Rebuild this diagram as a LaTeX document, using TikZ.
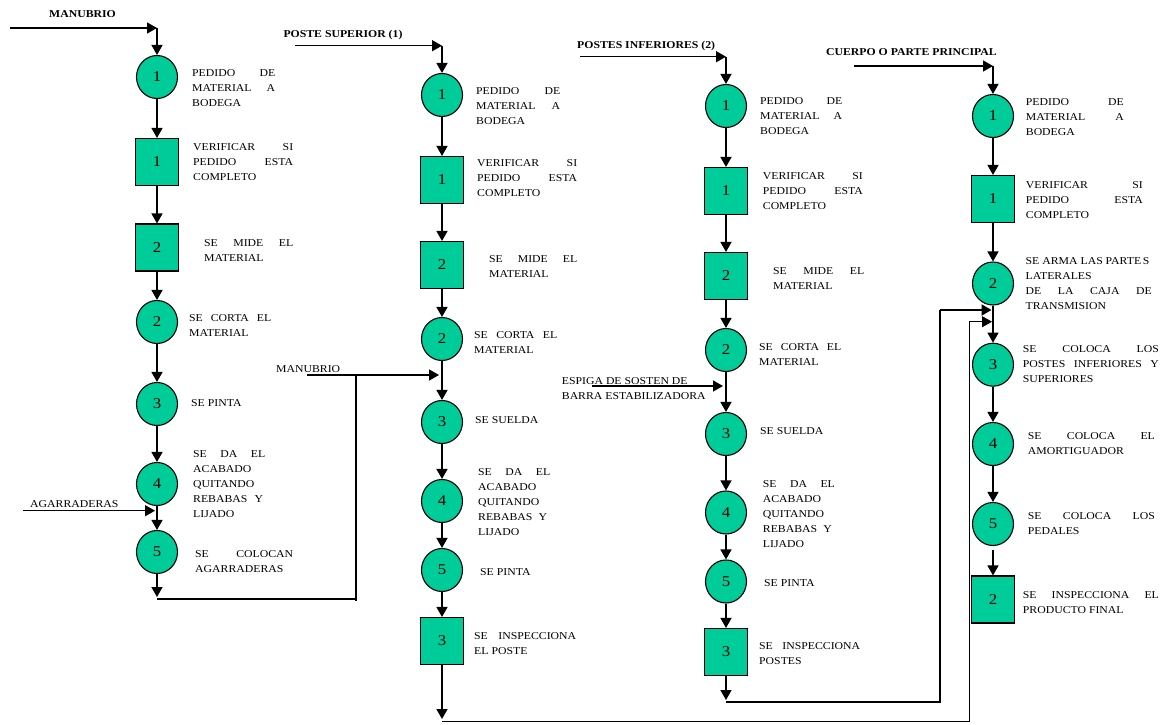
\documentclass[tikz,border=0pt]{standalone}
\usepackage{fontspec}
\setmainfont{Liberation Serif}[FakeStretch=1.12]
\usetikzlibrary{shapes.geometric,arrows.meta}
\hbadness=10000 \hfuzz=60pt
\definecolor{gfill}{RGB}{0,204,153}
\newcommand\jl[2]{\hbox to #1pt{#2}}
\newcommand\fl[1]{\hbox{#1}}
\begin{document}
\begin{tikzpicture}[x=1pt,y=-1pt,
  circ/.style={ellipse,draw=black,line width=1.1pt,fill=gfill,minimum width=41pt,minimum height=43pt,inner sep=0pt,font=\fontsize{15}{15}\selectfont},
  sq/.style={rectangle,draw=black,line width=1.1pt,fill=gfill,minimum width=43pt,minimum height=47pt,inner sep=0pt,font=\fontsize{15}{15}\selectfont},
  txt/.style={anchor=base west,inner sep=0pt,font=\fontsize{10.5}{15}\selectfont},
  ttl/.style={anchor=base west,inner sep=0pt,font=\fontsize{10.5}{15}\selectfont\bfseries},
  con/.style={line width=1.4pt,-{Triangle[length=10pt,width=11pt]}},
  thk/.style={line width=2pt},
  thn/.style={line width=0.9pt},
  conthn/.style={line width=0.9pt,-{Triangle[length=10pt,width=11pt]}}]
\fill[white] (0,0) rectangle (1173,724);
\useasboundingbox (0,0) rectangle (1173,724);

% ---------------- Column 1: MANUBRIO
\node[circ] (c11) at (157,77) {1};
\node[sq]   (c12) at (157,162) {1};
\node[sq]   (c13) at (157,247.5) {2};
\node[circ] (c14) at (157,322) {2};
\node[circ] (c15) at (157,404) {3};
\node[circ] (c16) at (157,484) {4};
\node[circ] (c17) at (157,552) {5};

\node[txt] (t11) at (192,76.5) {\vtop{\jl{83}{PEDIDO \hfil DE}\jl{83}{MATERIAL \hfil A}\fl{BODEGA}}};
\node[txt] (t12) at (193,150.5) {\vtop{\jl{100}{VERIFICAR \hfil SI}\jl{100}{PEDIDO \hfil ESTA}\fl{COMPLETO}}};
\node[txt] (t13) at (204,246.5) {\vtop{\jl{89}{SE \hfil MIDE \hfil EL}\fl{MATERIAL}}};
\node[txt] (t14) at (189,321) {\vtop{\jl{82}{SE \hfil CORTA \hfil EL}\fl{MATERIAL}}};
\node[txt] (t15) at (191,406) {SE PINTA};
\node[txt] (t16) at (193,457.5) {\vtop{\jl{72}{SE \hfil DA \hfil EL}\fl{ACABADO}\fl{QUITANDO}\jl{70}{REBABAS \hfil Y}\fl{LIJADO}}};
\node[txt] (t17) at (195,557.5) {\vtop{\jl{98}{SE \hfil COLOCAN}\fl{AGARRADERAS}}};

\node[ttl] (L1) at (49,17.5) {MANUBRIO};
\coordinate (m1a) at (10,28);
\coordinate (m1b) at (157,28);
\draw[con] (m1a) -- (m1b);
\draw[con] (m1b) -- (c11);
\draw[con] (c11) -- (c12);
\draw[con] (c12) -- (c13);
\draw[con] (c13) -- (c14);
\draw[con] (c14) -- (c15);
\draw[con] (c15) -- (c16);
\draw[con] (c16) -- (c17);
\node[txt] (L6) at (30,507.5) {AGARRADERAS};
\coordinate (ag1) at (23,510.7);
\coordinate (ag2) at (155,510.7);
\draw[con] (ag1) -- (ag2);

% return of MANUBRIO to column 2
\coordinate (r1) at (157,597);
\coordinate (r1b) at (157,598.5);
\coordinate (r2) at (356,598.5);
\coordinate (r2b) at (356,600.5);
\coordinate (r3) at (356,375);
\draw[con] (c17) -- (r1);
\draw[thk] (r1b) -- (r2);
\draw[thk] (r2b) -- (r3);
\node[txt] (L5) at (276,372.5) {MANUBRIO};
\coordinate (m2a) at (307,375);
\coordinate (m2b) at (439,375);
\draw[con] (m2a) -- (m2b);

% ---------------- Column 2: POSTE SUPERIOR
\node[circ] (c21) at (442,95) {1};
\node[sq]   (c22) at (442,180) {1};
\node[sq]   (c23) at (442,265) {2};
\node[circ] (c24) at (442,339) {2};
\node[circ] (c25) at (442,422) {3};
\node[circ] (c26) at (442,501) {4};
\node[circ] (c27) at (442,570) {5};
\node[sq]   (c28) at (442,641) {3};

\node[txt] (t21) at (476,94.5) {\vtop{\jl{84}{PEDIDO \hfil DE}\jl{84}{MATERIAL \hfil A}\fl{BODEGA}}};
\node[txt] (t22) at (477,166.5) {\vtop{\jl{100}{VERIFICAR \hfil SI}\jl{100}{PEDIDO \hfil ESTA}\fl{COMPLETO}}};
\node[txt] (t23) at (489,262.5) {\vtop{\jl{88}{SE \hfil MIDE \hfil EL}\fl{MATERIAL}}};
\node[txt] (t24) at (474,338.5) {\vtop{\jl{83}{SE \hfil CORTA \hfil EL}\fl{MATERIAL}}};
\node[txt] (t25) at (475,423.5) {SE SUELDA};
\node[txt] (t26) at (478,475) {\vtop{\jl{72}{SE \hfil DA \hfil EL}\fl{ACABADO}\fl{QUITANDO}\jl{69}{REBABAS \hfil Y}\fl{LIJADO}}};
\node[txt] (t27) at (480,575) {SE PINTA};
\node[txt] (t28) at (474,639) {\vtop{\jl{102}{SE \hfil INSPECCIONA}\fl{EL POSTE}}};

\node[ttl] (L2) at (283.3,37) {POSTE SUPERIOR (1)};
\coordinate (p1a) at (295,45.7);
\coordinate (p1b) at (442,45.7);
\draw[con] (p1a) -- (p1b);
\draw[con] (p1b) -- (c21);
\draw[con] (c21) -- (c22);
\draw[con] (c22) -- (c23);
\draw[con] (c23) -- (c24);
\draw[con] (c24) -- (c25);
\draw[con] (c25) -- (c26);
\draw[con] (c26) -- (c27);
\draw[con] (c27) -- (c28);

\coordinate (r4) at (442,719);
\coordinate (r5) at (442,721.5);
\coordinate (r6) at (969,721.5);
\coordinate (r7) at (969,321.7);
\coordinate (r8) at (992,321.7);
\draw[con] (c28) -- (r4);
\draw[thn] (r5) -- (r6) -- (r7);
\draw[conthn] (r7) -- (r8);

% ---------------- Column 3: POSTES INFERIORES
\node[circ] (c31) at (726,106) {1};
\node[sq]   (c32) at (726,191) {1};
\node[sq]   (c33) at (726,276) {2};
\node[circ] (c34) at (726,350) {2};
\node[circ] (c35) at (726,434) {3};
\node[circ] (c36) at (726,512.5) {4};
\node[circ] (c37) at (726,581.5) {5};
\node[sq]   (c38) at (726,652) {3};

\node[txt] (t31) at (760,104.5) {\vtop{\jl{82}{PEDIDO \hfil DE}\jl{82}{MATERIAL \hfil A}\fl{BODEGA}}};
\node[txt] (t32) at (762.7,179) {\vtop{\jl{100}{VERIFICAR \hfil SI}\jl{100}{PEDIDO \hfil ESTA}\fl{COMPLETO}}};
\node[txt] (t33) at (773,274) {\vtop{\jl{91}{SE \hfil MIDE \hfil EL}\fl{MATERIAL}}};
\node[txt] (t34) at (759,350) {\vtop{\jl{82}{SE \hfil CORTA \hfil EL}\fl{MATERIAL}}};
\node[txt] (t35) at (760,434.5) {SE SUELDA};
\node[txt] (t36) at (762.7,487) {\vtop{\jl{72}{SE \hfil DA \hfil EL}\fl{ACABADO}\fl{QUITANDO}\jl{69}{REBABAS \hfil Y}\fl{LIJADO}}};
\node[txt] (t37) at (764,586) {SE PINTA};
\node[txt] (t38) at (759,649.5) {\vtop{\jl{101}{SE \hfil INSPECCIONA}\fl{POSTES}}};

\node[ttl] (L3) at (577,48.5) {POSTES INFERIORES (2)};
\coordinate (q1a) at (580,56.7);
\coordinate (q1b) at (726,56.7);
\draw[con] (q1a) -- (q1b);
\draw[con] (q1b) -- (c31);
\draw[con] (c31) -- (c32);
\draw[con] (c32) -- (c33);
\draw[con] (c33) -- (c34);
\draw[con] (c34) -- (c35);
\draw[con] (c35) -- (c36);
\draw[con] (c36) -- (c37);
\draw[con] (c37) -- (c38);
\node[txt] (L7) at (561.7,384.5) {\vtop{\fl{ESPIGA DE SOSTEN DE}\fl{BARRA ESTABILIZADORA}}};
\coordinate (e1) at (591.7,386);
\coordinate (e2) at (723,386);
\draw[con] (e1) -- (e2);

\coordinate (r9) at (726,700);
\coordinate (r10) at (726,701.7);
\coordinate (r11) at (940,701.7);
\coordinate (r12) at (940,310);
\coordinate (r13) at (991.5,310);
\draw[con] (c38) -- (r9);
\draw[thk] (r10) -- (r11) -- (r12);
\draw[con,line width=2pt] (r12) -- (r13);

% ---------------- Column 4: CUERPO O PARTE PRINCIPAL
\node[circ] (c41) at (993,116) {1};
\node[sq]   (c42) at (993,199) {1};
\node[circ] (c43) at (993,283.5) {2};
\node[circ] (c44) at (993,364.7) {3};
\node[circ] (c45) at (993,444) {4};
\node[circ] (c46) at (993,524) {5};
\node[sq]   (c47) at (993,599.5) {2};

\node[txt] (t41) at (1025.7,105) {\vtop{\jl{98}{PEDIDO \hfil DE}\jl{98}{MATERIAL \hfil A}\fl{BODEGA}}};
\node[txt] (t42) at (1025.7,188.5) {\vtop{\jl{117}{VERIFICAR \hfil SI}\jl{117}{PEDIDO \hfil ESTA}\fl{COMPLETO}}};
\node[txt] (t43) at (1025.5,264) {\vtop{\fl{SE ARMA LAS PARTE\,S}\fl{LATERALES}\jl{126}{DE \hfil LA \hfil CAJA \hfil DE}\fl{TRANSMISION}}};
\node[txt] (t44) at (1022.7,352) {\vtop{\jl{136}{SE \hfil COLOCA \hfil LOS}\jl{136}{POSTES \hfil INFERIORES \hfil Y}\fl{SUPERIORES}}};
\node[txt] (t45) at (1027.7,439.5) {\vtop{\jl{127}{SE \hfil COLOCA \hfil EL}\fl{AMORTIGUADOR}}};
\node[txt] (t46) at (1027.7,519.5) {\vtop{\jl{127}{SE \hfil COLOCA \hfil LOS}\fl{PEDALES}}};
\node[txt] (t47) at (1022.7,598.5) {\vtop{\jl{136}{SE \hfil INSPECCIONA \hfil EL}\fl{PRODUCTO FINAL}}};

\node[ttl,anchor=base east] (L4) at (997,55) {CUERPO O PARTE PRINCIPAL};
\coordinate (k1a) at (854,66);
\coordinate (k1b) at (993,66);
\draw[con] (k1a) -- (k1b);
\draw[con] (k1b) -- (c41);
\draw[con] (c41) -- (c42);
\draw[con] (c42) -- (c43);
\draw[con] (c43) -- (c44);
\draw[con] (c44) -- (c45);
\draw[con] (c45) -- (c46);
\draw[con,shorten <=4pt] (c46) -- (c47);
\end{tikzpicture}
\end{document}
